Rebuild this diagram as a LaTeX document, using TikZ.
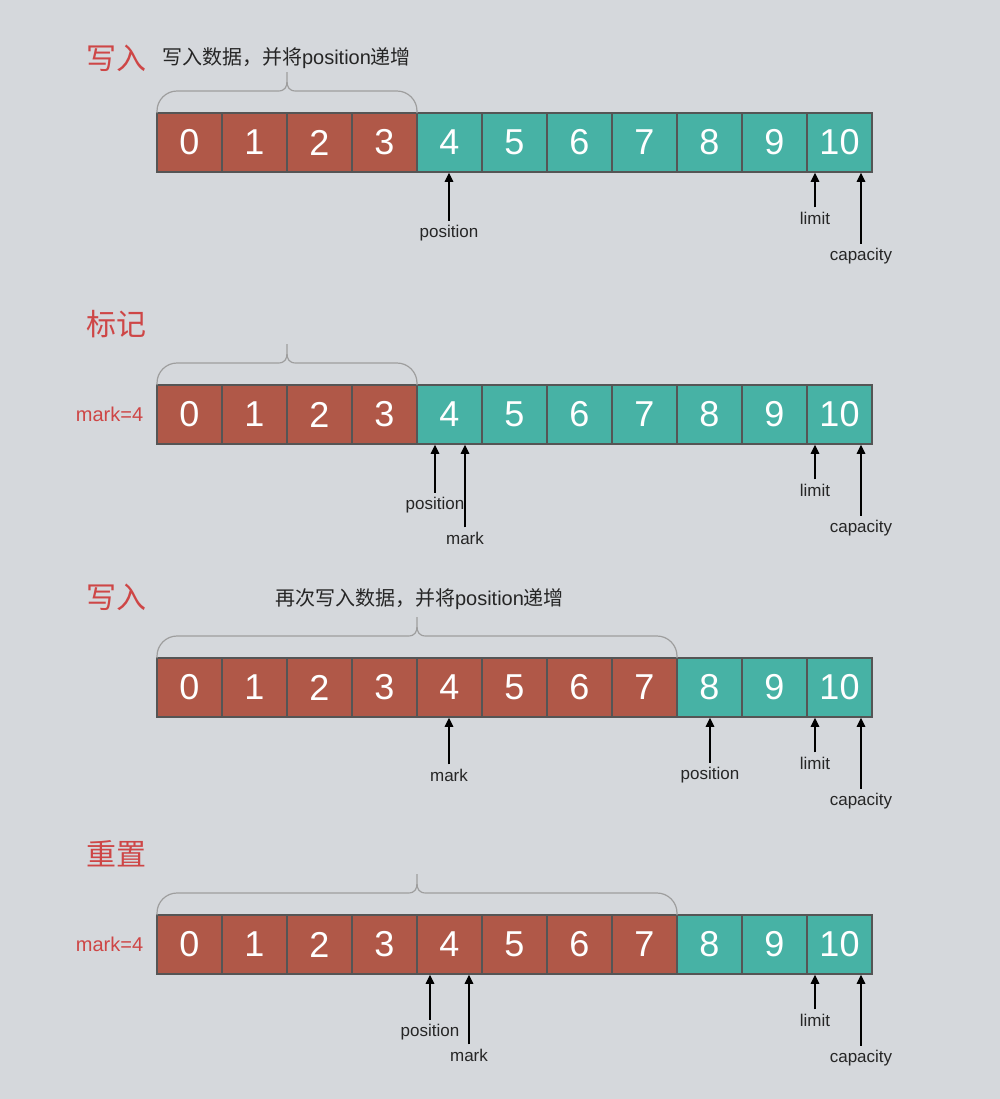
\documentclass[tikz,border=0pt]{standalone}
\usepackage{fontspec}
\setmainfont{Liberation Sans}
\newfontfamily\cjk{Noto Sans CJK SC}
\usetikzlibrary{arrows.meta, positioning, calc}
\definecolor{bufbg}{RGB}{213,216,220}
\definecolor{usedred}{RGB}{176,88,72}
\definecolor{freeteal}{RGB}{71,178,165}
\definecolor{cellline}{RGB}{85,85,85}
\definecolor{titlered}{RGB}{206,70,70}
\definecolor{bracegray}{RGB}{158,158,158}

% Klammer ueber den beschriebenen Zellen: linkes x, rechtes x, Oberkante y
\newcommand{\fillbrace}[3]{%
  \pgfmathsetmacro{\bmid}{(#1+#2)/2}%
  \draw[brace] (#1,#3) -- (#1,#3-2) .. controls (#1,#3-13) and (#1+9,#3-22) .. (#1+20,#3-22)
    -- (\bmid-9,#3-22) .. controls (\bmid-2,#3-22) and (\bmid,#3-26) .. (\bmid,#3-32)
    -- (\bmid,#3-41) -- (\bmid,#3-32)
    .. controls (\bmid,#3-26) and (\bmid+2,#3-22) .. (\bmid+9,#3-22)
    -- (#2-20,#3-22) .. controls (#2-9,#3-22) and (#2,#3-13) .. (#2,#3-2) -- (#2,#3);%
}

\begin{document}
\begin{tikzpicture}[
  x=0.5pt, y=-0.5pt,
  cell/.style={
    draw=cellline, line width=0.8pt, text=white,
    minimum width=32.5pt, minimum height=29.5pt, inner sep=0pt,
    font=\fontsize{18}{18}\selectfont
  },
  title/.style={text=titlered, font=\cjk\fontsize{15}{15}\selectfont},
  desc/.style={text=black!85, font=\fontsize{10}{12}\selectfont},
  marktext/.style={text=titlered, font=\fontsize{10}{12}\selectfont},
  ptrlabel/.style={text=black!85, font=\fontsize{8.5}{10}\selectfont, inner sep=2pt},
  ptr/.style={-{Triangle[length=4.5pt, width=4.3pt]}, line width=0.6pt, black},
  brace/.style={draw=bracegray, line width=0.6pt}
]
  \useasboundingbox[fill=bufbg] (0,0) rectangle (1000,1099);

  % Puffer-Zeilen
  \foreach \r/\y/\n in {1/142.5/4, 2/414.5/4, 3/687.5/8, 4/944.5/8} {
    \foreach \i in {0,...,10} {
      \ifnum\i<\n \def\cellfill{usedred}\else\def\cellfill{freeteal}\fi
      \node[cell, fill=\cellfill] (r\r c\i) at (189.5+65*\i,\y) {\i};
    }
  }

  % Ueberschriften
  \node[title] (t1) at (116,58) {写入};
  \node[title] (t2) at (116,324) {标记};
  \node[title] (t3) at (116,597) {写入};
  \node[title] (t4) at (116,854) {重置};

  \node[desc] (d1) at (286.5,58) {{\cjk 写入数据，并将}position{\cjk 递增}};
  \node[desc] (d3) at (419.5,599) {{\cjk 再次写入数据，并将}position{\cjk 递增}};

  \node[marktext, left=3pt of r2c0] (m2) {mark=4};
  \node[marktext, left=3pt of r4c0] (m4) {mark=4};

  % Klammern
  \fillbrace{157}{417}{113}
  \fillbrace{157}{417}{385}
  \fillbrace{157}{677}{658}
  \fillbrace{157}{677}{915}

  % Zeiger Zeile 1
  \node[ptrlabel] (pos1) at (449,233) {position};
  \node[ptrlabel] (lim1) at (815,218) {limit};
  \node[ptrlabel] (cap1) at (861,256) {capacity};
  \draw[ptr] (pos1.north) -- (pos1.north |- r1c4.south);
  \draw[ptr] (lim1.north) -- (lim1.north |- r1c10.south);
  \draw[ptr] (cap1.north) -- (cap1.north |- r1c10.south);

  % Zeiger Zeile 2
  \node[ptrlabel] (pos2) at (435,505) {position};
  \node[ptrlabel] (mk2) at (465,538) {mark};
  \node[ptrlabel] (lim2) at (815,490) {limit};
  \node[ptrlabel] (cap2) at (861,528) {capacity};
  \draw[ptr] (pos2.north) -- (pos2.north |- r2c4.south);
  \draw[ptr] (mk2.north) -- (mk2.north |- r2c4.south);
  \draw[ptr] (lim2.north) -- (lim2.north |- r2c10.south);
  \draw[ptr] (cap2.north) -- (cap2.north |- r2c10.south);

  % Zeiger Zeile 3
  \node[ptrlabel] (mk3) at (449,775) {mark};
  \node[ptrlabel] (pos3) at (710,775) {position};
  \node[ptrlabel] (lim3) at (815,763) {limit};
  \node[ptrlabel] (cap3) at (861,801) {capacity};
  \draw[ptr] (mk3.north) -- (mk3.north |- r3c4.south);
  \draw[ptr] (pos3.north) -- (pos3.north |- r3c8.south);
  \draw[ptr] (lim3.north) -- (lim3.north |- r3c10.south);
  \draw[ptr] (cap3.north) -- (cap3.north |- r3c10.south);

  % Zeiger Zeile 4
  \node[ptrlabel] (pos4) at (430,1032) {position};
  \node[ptrlabel] (mk4) at (469,1055) {mark};
  \node[ptrlabel] (lim4) at (815,1020) {limit};
  \node[ptrlabel] (cap4) at (861,1058) {capacity};
  \draw[ptr] (pos4.north) -- (pos4.north |- r4c4.south);
  \draw[ptr] (mk4.north) -- (mk4.north |- r4c4.south);
  \draw[ptr] (lim4.north) -- (lim4.north |- r4c10.south);
  \draw[ptr] (cap4.north) -- (cap4.north |- r4c10.south);

\end{tikzpicture}
\end{document}
